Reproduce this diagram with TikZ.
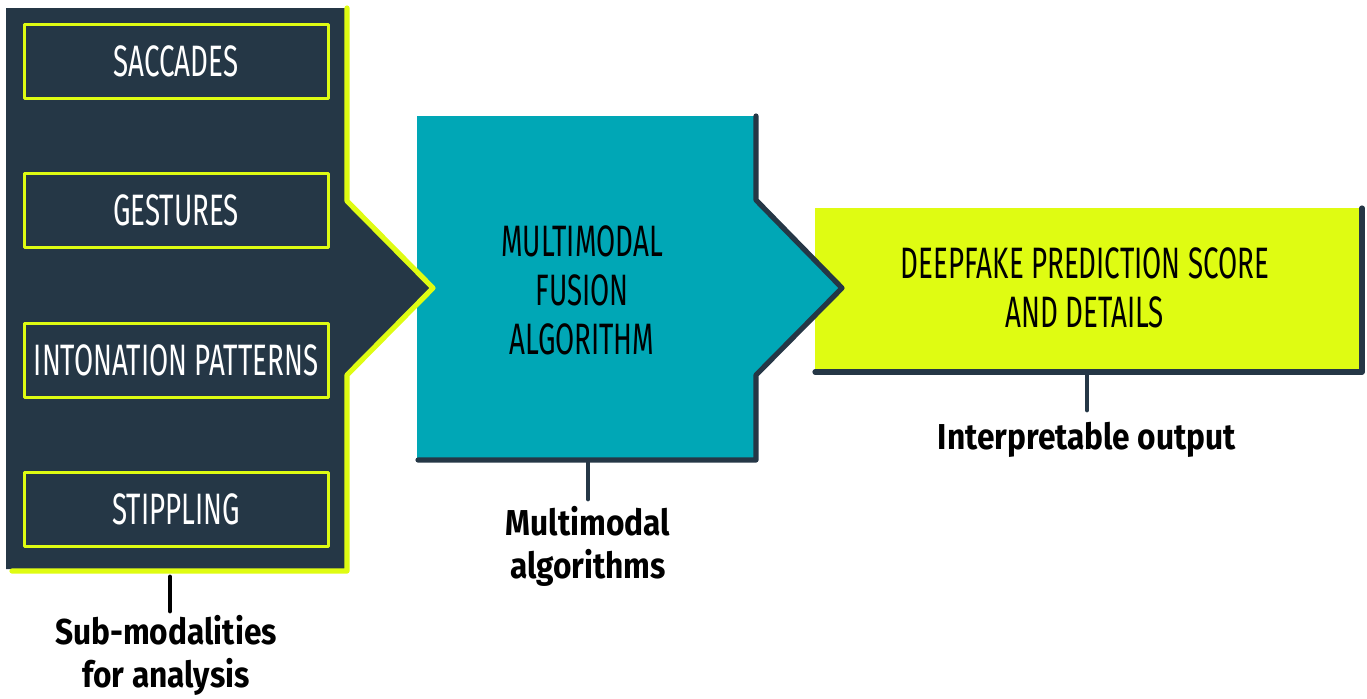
\documentclass[tikz,border=0pt]{standalone}
\usepackage{fontspec}
\setmainfont{Fira Sans}
\newfontfamily\capsfont[FakeStretch=0.63]{Fira Sans}
\newfontfamily\labfont[FakeStretch=0.88]{Fira Sans}
\usetikzlibrary{positioning}
\definecolor{navyc}{HTML}{253746}
\definecolor{limec}{HTML}{DFFC12}
\definecolor{tealc}{HTML}{00A7B6}

\begin{document}
\begin{tikzpicture}[x=0.5pt, y=-0.5pt, line join=round, line cap=round,
          sub/.style={draw=limec, line width=1.5pt, fill=navyc, minimum width=152pt, minimum height=37pt, inner sep=0pt, text=white, font=\capsfont\fontsize{22}{24}\selectfont},
          capt/.style={align=center, inner sep=0pt, font=\capsfont\fontsize{22}{24.5}\selectfont},
          lab/.style={align=center, inner sep=0pt, font=\labfont\bfseries\fontsize{18}{21.5}\selectfont},
          edge/.style={line width=2.6pt},
          tick/.style={line width=2.4pt}]
        \useasboundingbox (0,0) rectangle (1367,698);
        % output box
        \fill[limec] (815,208) rectangle (1362,372);
        \draw[edge, navyc] (1362,208) -- (1362,372) -- (815,372);
        \node[capt] (outtxt) at (1085,288) {DEEPFAKE PREDICTION SCORE\\AND DETAILS};
        % fusion block
        \fill[tealc] (417,116) -- (756,116) -- (756,200) -- (842,288) -- (756,375) -- (756,460) -- (417,460) -- cycle;
        \draw[edge, navyc] (756,116) -- (756,200) -- (842,288) -- (756,375) -- (756,460) -- (418,460);
        \node[capt] (fustxt) at (582,290) {MULTIMODAL\\FUSION\\ALGORITHM};
        % sub-modality panel
        \fill[navyc] (6,8) -- (345,8) -- (345,200) -- (432,287) -- (345,375) -- (345,569) -- (6,569) -- cycle;
        \draw[edge, limec] (347,8) -- (347,201) -- (433,288) -- (347,375) -- (347,571) -- (12,571);
        \foreach \y/\name/\txt in {61/sac/SACCADES, 210.5/ges/GESTURES, 360/int/INTONATION PATTERNS, 509.5/sti/STIPPLING}
          \node[sub] (\name) at (176,\y) {\txt};
        % ticks and labels
        \coordinate (t1) at (170,577); \coordinate (t1e) at (170,611);
        \coordinate (t2) at (588,462); \coordinate (t2e) at (588,499);
        \coordinate (t3) at (1087,373); \coordinate (t3e) at (1087,410);
        \draw[tick, black] (t1) -- (t1e); \draw[tick, navyc] (t2) -- (t2e); \draw[tick, navyc] (t3) -- (t3e);
        \node[lab] (sublab) at (166,655) {Sub-modalities\\for analysis};
        \node[lab] (mmlab) at (588,546) {Multimodal\\algorithms};
        \node[lab] (outlab) at (1087,440) {Interpretable output};
      \end{tikzpicture}
\end{document}
